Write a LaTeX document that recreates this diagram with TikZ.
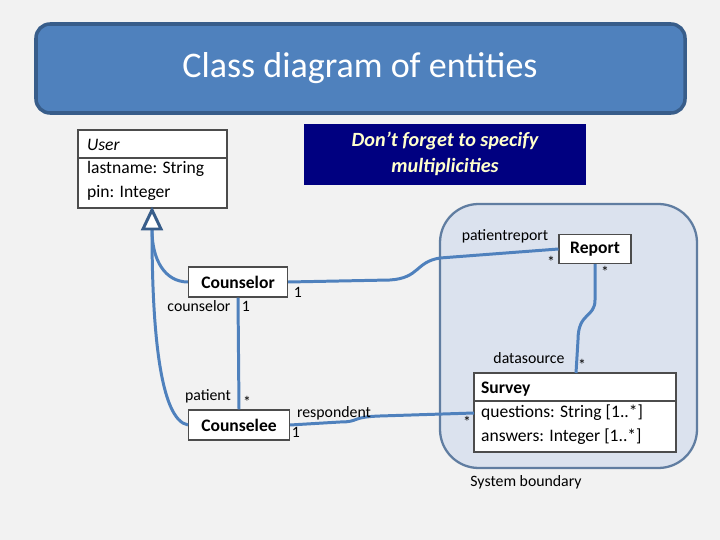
\documentclass[tikz,border=0pt]{standalone}
\usepackage{fontspec}
\setmainfont{Carlito}
\usetikzlibrary{arrows.meta}
\definecolor{bgray}{HTML}{F2F2F2}
\definecolor{tblue}{HTML}{4F81BD}
\definecolor{tedge}{HTML}{385D8A}
\definecolor{sysfill}{HTML}{DBE2EE}
\definecolor{noteyel}{HTML}{FFFFCC}
\tikzset{
  classbox/.style={draw=black!70,fill=white,line width=0.6pt},
  assoc/.style={draw=tblue,line width=1.7pt},
  lbl/.style={font=\fontsize{9}{10}\selectfont,inner sep=1pt},
  attr/.style={font=\fontsize{10}{12}\selectfont,anchor=west,inner sep=1pt}
}
\begin{document}
\begin{tikzpicture}[x=0.02cm,y=-0.02cm]
    \useasboundingbox[fill=bgray] (0,0) rectangle (720,540);

    % title
    \draw[fill=tblue,draw=tedge,line width=2pt,rounded corners=8pt] (36,24) rectangle (685,113);
    \node[text=white,font=\fontsize{20.5}{24}\selectfont] (title) at (360,68) {Class diagram of entities};

    % note
    \fill[fill=blue!50!black] (304,124) rectangle (586,185);
    \node[text=noteyel,align=center,font=\fontsize{11.5}{15}\selectfont\bfseries\itshape] (note) at (445,154)
      {Don’t forget to specify\\multiplicities};

    % system boundary
    \draw[fill=sysfill,draw=tedge!80,line width=1.3pt,rounded corners=22pt] (440,204) rectangle (697,468);
    \node[lbl] (sys) at (526,482) {System boundary};

    % User
    \draw[classbox] (78,130) rectangle (227,208);
    \draw[black!70,line width=1pt] (78,158) -- (227,158);
    \node[attr,font=\fontsize{10}{12}\selectfont\itshape] (user) at (85,145) {User};
    \node[attr] (uattr1) at (85,169) {lastname: String};
    \node[attr] (uattr2) at (85,193) {pin: Integer};

    % Survey
    \draw[classbox] (474,373) rectangle (676,452);
    \draw[black!70,line width=1pt] (474,401) -- (676,401);
    \node[attr,font=\fontsize{10}{12}\selectfont\bfseries] (survey) at (479,389) {Survey};
    \node[attr] (sattr1) at (479,413) {questions: String [1..*]};
    \node[attr] (sattr2) at (479,437) {answers: Integer [1..*]};
    \coordinate (surveyleft) at (474,413);
    \coordinate (surveytop) at (576,373);

    % other classes
    \node[classbox,font=\fontsize{10}{12}\selectfont\bfseries,
      minimum width=1.98cm,minimum height=0.6cm] (counselor) at (238,282) {Counselor};
    \node[classbox,font=\fontsize{10}{12}\selectfont\bfseries,
      minimum width=2.02cm,minimum height=0.6cm] (counselee) at (239,425) {Counselee};
    \node[classbox,font=\fontsize{10}{12}\selectfont\bfseries,
      minimum width=1.44cm,minimum height=0.58cm] (report) at (595,249) {Report};

    % generalisations
    \draw[assoc] (counselor.west) .. controls (165,282) and (152,260) .. (152,230);
    \draw[assoc] (counselee.west) .. controls (160,420) and (152,330) .. (152,230);
    \draw[draw=tedge,line width=1.7pt,fill=white] (152,210) -- (161,229) -- (143,229) -- cycle;

    % associations
    \draw[assoc] (counselor.south) -- (counselee.north);
    \draw[assoc] (counselor.east) -- (390,280) .. controls (420,278) and (415,262) .. (440,258) -- (report.west);
    \draw[assoc] (counselee.east) -- (340,422) .. controls (360,422) and (350,417) .. (380,416) -- (surveyleft);
    \draw[assoc] (report.south) -- (595,300) .. controls (595,318) and (578,312) .. (578,340) -- (surveytop);

    % multiplicities and roles
    \node[lbl] (m1) at (199,306) {counselor};
    \node[lbl] (m2) at (246,306) {1};
    \node[lbl] (m3) at (298,292) {1};
    \node[lbl] (m4) at (208,396) {patient};
    \node[lbl] (m5) at (247,402) {*};
    \node[lbl] (m6) at (334,413) {respondent};
    \node[lbl] (m7) at (296,432) {1};
    \node[lbl] (m8) at (505,236) {patientreport};
    \node[lbl] (m9) at (551,262) {*};
    \node[lbl] (m10) at (605,272) {*};
    \node[lbl] (m11) at (529,358) {datasource};
    \node[lbl] (m12) at (582,365) {*};
    \node[lbl] (m13) at (467,422) {*};
\end{tikzpicture}
\end{document}
